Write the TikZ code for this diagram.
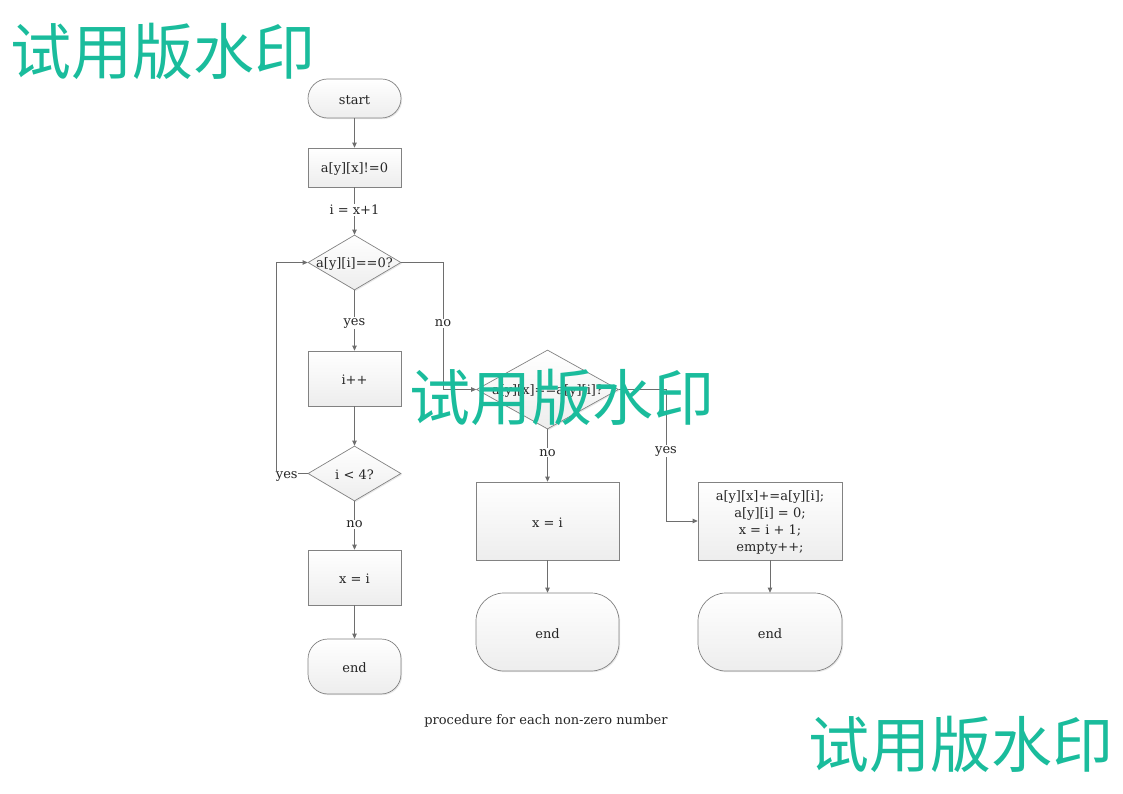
\documentclass[tikz,border=0pt]{standalone}
\usepackage{fontspec}
\setmainfont{DejaVu Serif}
\newfontfamily\cjk{Noto Sans CJK SC}
\usetikzlibrary{shapes.geometric,shadows,arrows.meta,positioning}
\definecolor{wm}{RGB}{26,188,156}
\definecolor{edge}{RGB}{110,110,110}
\definecolor{bord}{RGB}{130,130,130}
\tikzset{
  shape base/.style={draw=bord, line width=0.7pt, top color=white, bottom color=black!7,
    drop shadow={shadow xshift=1.2pt, shadow yshift=-1.2pt, opacity=0.18}, inner sep=0pt},
  procbox/.style={shape base, rectangle, minimum width=93pt},
  termbox/.style={shape base, rectangle, minimum width=93pt},
  decbox/.style={shape base, diamond, inner sep=0pt},
  txt/.style={font=\fontsize{13}{17}\selectfont, text=black!85, align=center, yshift=-1.5pt},
  lbl/.style={font=\fontsize{13}{14}\selectfont, text=black!85, fill=white, inner sep=1pt, yshift=-2.5pt},
  conn/.style={draw=edge, line width=0.8pt, -{Triangle[length=5pt,width=4.5pt]}},
  plain/.style={draw=edge, line width=0.8pt},
  wmark/.style={font=\cjk\fontsize{61}{61}\selectfont, text=wm}
}
\begin{document}
\begin{tikzpicture}[x=1pt,y=-1pt]
\useasboundingbox (0,0) rectangle (1123,794);
% left column
\node[termbox, minimum height=39pt, rounded corners=19.5pt] (start) at (354.5,98.5) {};
\node[txt] (startt) at (start) {start};
\node[procbox, minimum height=39pt] (b1) at (354.5,167.5) {};
\node[txt] (b1t) at (b1) {a[y][x]!=0};
\node[decbox, minimum width=93pt, minimum height=55pt] (d1) at (354.5,262.5) {};
\node[txt] (d1t) at (d1) {a[y][i]==0?};
\node[procbox, minimum height=55pt] (b2) at (354.5,378.5) {};
\node[txt] (b2t) at (b2) {i++};
\node[decbox, minimum width=93pt, minimum height=55pt] (d2) at (354.5,473.5) {};
\node[txt] (d2t) at (d2) {i < 4?};
\node[procbox, minimum height=55pt] (b3) at (354.5,577.5) {};
\node[txt] (b3t) at (b3) {x = i};
\node[termbox, minimum height=55pt, rounded corners=20pt] (e1) at (354.5,666.5) {};
\node[txt] (e1t) at (e1) {end};
% middle
\node[decbox, minimum width=142pt, minimum height=79pt] (d3) at (547.5,389.5) {};
\node[txt] (d3t) at (d3) {a[y][x]==a[y][i]?};
\node[procbox, minimum width=143pt, minimum height=78pt] (b4) at (547.5,521) {};
\node[txt] (b4t) at (b4) {x = i};
\node[termbox, minimum width=143pt, minimum height=78pt, rounded corners=28pt] (e2) at (547.5,632) {};
\node[txt] (e2t) at (e2) {end};
% right
\node[procbox, minimum width=144pt, minimum height=78pt] (b5) at (770,521) {};
\node[txt] (b5t) at (b5) {a[y][x]+=a[y][i];\\a[y][i] = 0;\\x = i + 1;\\empty++;};
\node[termbox, minimum width=144pt, minimum height=78pt, rounded corners=28pt] (e3) at (770,632) {};
\node[txt] (e3t) at (e3) {end};
% coordinates
\coordinate (c1) at (276,473.5);
\coordinate (c2) at (276,262.5);
\coordinate (c3) at (443,262.5);
\coordinate (c4) at (443,389.5);
\coordinate (c5) at (666,389.5);
\coordinate (c6) at (666,521);
% connectors
\draw[conn] (start) -- (b1);
\draw[conn] (b1) -- node[lbl, pos=0.42] (l1) {i = x+1} (d1);
\draw[conn] (d1) -- node[lbl, pos=0.5] (l2) {yes} (b2);
\draw[conn] (b2) -- (d2);
\draw[conn] (d2) -- node[lbl, pos=0.43] (l3) {no} (b3);
\draw[conn] (b3) -- (e1);
\draw[conn] (d2.west) -- node[lbl, pos=0.66, inner sep=0.3pt] (l4) {yes} (c1) -- (c2) -- (d1.west);
\draw[conn] (d1.east) -- (c3) -- node[lbl, pos=0.46] (l5) {no} (c4) -- (d3.west);
\draw[conn] (d3) -- node[lbl, pos=0.4] (l6) {no} (b4);
\draw[conn] (b4) -- (e2);
\draw[conn] (d3.east) -- (c5) -- node[lbl, pos=0.45] (l7) {yes} (c6) -- (b5.west);
\draw[conn] (b5) -- (e3);
% caption
\node[font=\fontsize{13}{14}\selectfont, text=black!85] (cap) at (546,720.5) {procedure for each non-zero number};
% watermarks
\node[wmark] (w1) at (163,51) {试用版水印};
\node[wmark] (w2) at (562,397) {试用版水印};
\node[wmark] (w3) at (961,744) {试用版水印};
\end{tikzpicture}
\end{document}
